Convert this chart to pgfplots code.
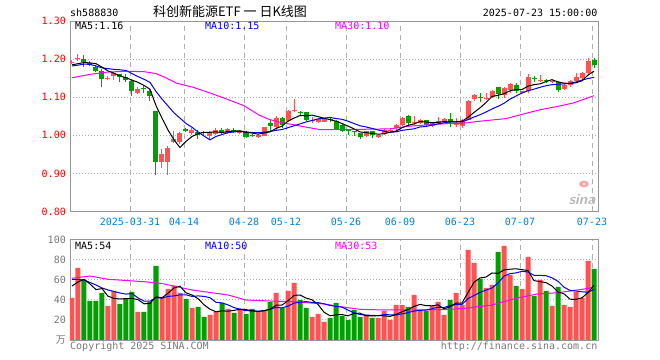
\documentclass[border=0pt]{standalone}
\usepackage{pgfplots}
\pgfplotsset{compat=1.18}
\usepackage{pgfplotstable}
\usepackage{fontspec}
\setmainfont{DejaVu Sans}
\setmonofont{DejaVu Sans Mono}
\newfontfamily\cjk{Noto Sans CJK SC}
\definecolor{cred}{RGB}{255,82,82}
\definecolor{cgreen}{RGB}{0,160,0}
\definecolor{cblue}{RGB}{0,0,255}
\definecolor{cmag}{RGB}{255,0,255}
\definecolor{cdate}{RGB}{0,128,224}
\definecolor{cgrid}{RGB}{175,175,175}
\definecolor{cframe}{RGB}{150,150,150}
\definecolor{ctxt}{RGB}{120,120,120}

\pgfplotstableread{
i O H L C V
0 1.190 1.197 1.186 1.193 42
1 1.199 1.213 1.196 1.201 72
6 1.149 1.155 1.145 1.150 34
7 1.156 1.167 1.145 1.163 49
11 1.112 1.126 1.108 1.122 28
15 0.931 0.965 0.915 0.950 43
16 0.931 0.971 0.895 0.966 51
17 0.983 1.010 0.980 0.990 54
18 0.983 1.008 0.978 1.005 47
20 1.005 1.018 1.000 1.015 32
23 0.999 1.010 0.987 1.008 25
24 1.004 1.018 1.002 1.015 28
26 1.006 1.020 1.003 1.017 31
28 1.006 1.012 1.003 1.010 31
31 0.996 1.003 0.993 1.002 28
32 0.999 1.022 0.997 1.022 30
34 1.021 1.050 1.015 1.045 47
36 1.037 1.066 1.035 1.063 49
37 1.063 1.095 1.060 1.065 57
40 1.037 1.047 1.033 1.040 23
41 1.036 1.045 1.031 1.043 26
42 1.036 1.045 1.034 1.043 18
49 0.998 1.012 0.995 1.010 25
51 0.995 1.003 0.993 1.002 22
52 1.004 1.017 1.001 1.013 29
53 1.010 1.020 1.005 1.013 20
54 1.019 1.030 1.015 1.028 35
55 1.028 1.047 1.025 1.045 35
57 1.032 1.050 1.028 1.034 45
58 1.033 1.042 1.030 1.040 30
60 1.025 1.036 1.023 1.033 34
61 1.033 1.049 1.030 1.037 38
62 1.035 1.046 1.033 1.044 25
64 1.027 1.046 1.022 1.029 47
65 1.024 1.043 1.018 1.040 35
66 1.041 1.092 1.040 1.090 90
67 1.095 1.109 1.090 1.106 77
69 1.096 1.112 1.092 1.098 52
70 1.100 1.118 1.098 1.117 55
72 1.106 1.126 1.099 1.124 94
73 1.119 1.138 1.110 1.135 65
75 1.112 1.117 1.110 1.115 51
76 1.115 1.160 1.110 1.154 83
78 1.142 1.158 1.140 1.145 60
80 1.141 1.146 1.138 1.143 34
82 1.122 1.134 1.119 1.132 35
83 1.132 1.145 1.128 1.143 33
84 1.143 1.163 1.141 1.154 48
85 1.150 1.166 1.146 1.164 42
86 1.163 1.204 1.157 1.195 79
}\redc

\pgfplotstableread{
i O H L C V
2 1.200 1.211 1.179 1.192 60
3 1.191 1.194 1.182 1.185 39
4 1.180 1.185 1.165 1.170 39
5 1.169 1.173 1.126 1.147 47
8 1.161 1.162 1.141 1.152 36
9 1.152 1.162 1.141 1.144 41
10 1.142 1.145 1.102 1.115 48
12 1.123 1.130 1.110 1.121 28
13 1.115 1.122 1.091 1.102 38
14 1.063 1.065 0.895 0.930 74
19 1.017 1.020 1.008 1.010 41
21 1.008 1.015 0.990 1.002 33
22 1.008 1.010 0.998 1.006 23
25 1.015 1.018 1.003 1.006 37
27 1.012 1.018 1.005 1.010 27
29 1.008 1.010 0.993 0.996 26
30 1.000 1.003 0.995 0.998 31
33 1.031 1.041 1.010 1.025 38
35 1.045 1.048 1.020 1.028 32
38 1.060 1.063 1.053 1.058 40
39 1.061 1.062 1.038 1.040 32
43 1.043 1.047 1.035 1.040 22
44 1.037 1.040 1.015 1.017 37
45 1.028 1.031 1.008 1.012 24
46 1.012 1.015 1.001 1.010 20
47 1.010 1.012 0.998 1.008 30
48 1.005 1.007 0.990 0.996 23
50 1.010 1.012 0.993 1.000 22
56 1.050 1.052 1.028 1.031 33
59 1.039 1.041 1.025 1.027 29
63 1.043 1.058 1.022 1.034 40
68 1.099 1.110 1.088 1.097 61
71 1.126 1.128 1.096 1.109 88
74 1.132 1.138 1.110 1.115 54
77 1.150 1.156 1.141 1.147 44
79 1.146 1.148 1.138 1.143 49
81 1.141 1.143 1.113 1.120 53
87 1.198 1.204 1.176 1.185 71
}\greenc

\pgfplotstableread{
i m5 m10 v5 v10
0 1.185 1.182 54 60.7
1 1.188 1.184 58 60.5
2 1.191 1.187 60.7 60
3 1.190 1.186 56 57.5
4 1.188 1.182 50.4 55
5 1.179 1.177 51.4 52
6 1.169 1.175 43.8 50
7 1.163 1.173 41.6 48.5
8 1.156 1.172 41.0 47
9 1.151 1.170 41.4 45.9
10 1.145 1.162 41.6 46.5
11 1.139 1.154 40.4 42.1
12 1.131 1.147 36.2 38.9
13 1.121 1.139 36.6 38.8
14 1.078 1.115 43.2 42.3
15 1.045 1.095 42.2 41.9
16 1.014 1.077 46.8 43.6
17 0.988 1.059 52.0 44.1
18 0.968 1.045 53.8 45.2
19 0.984 1.031 47.2 45.2
20 0.997 1.021 45.0 43.6
21 1.004 1.009 41.4 44.1
22 1.008 0.998 35.2 43.6
23 1.008 0.988 30.8 42.3
24 1.009 0.997 28.2 37.7
25 1.007 1.002 29.2 37.1
26 1.010 1.007 28.8 35.1
27 1.011 1.009 29.6 32.4
28 1.012 1.010 30.8 30.8
29 1.008 1.009 30.4 29.3
30 1.006 1.007 29.2 29.2
31 1.003 1.007 28.6 28.7
32 1.006 1.008 29.2 29.4
33 1.009 1.010 30.6 30.7
34 1.018 1.013 34.8 32.6
35 1.024 1.015 35.0 32.1
36 1.037 1.020 39.2 33.9
37 1.045 1.025 44.6 36.9
38 1.052 1.030 45.0 37.8
39 1.051 1.035 42.0 38.4
40 1.053 1.039 40.2 37.6
41 1.049 1.043 35.6 37.4
42 1.045 1.045 27.8 36.2
43 1.041 1.047 24.2 34.6
44 1.037 1.044 25.2 33.6
45 1.031 1.042 25.4 32.8
46 1.024 1.037 24.2 29.9
47 1.017 1.031 26.6 27.2
48 1.009 1.025 26.8 25.5
49 1.007 1.022 24.4 24.8
50 1.005 1.018 24.0 24.7
51 1.003 1.014 24.4 24.3
52 1.004 1.011 24.2 25.4
53 1.008 1.008 23.6 25.2
54 1.011 1.009 25.6 25.0
55 1.020 1.013 28.2 26.1
56 1.026 1.015 30.4 27.4
57 1.030 1.017 33.6 28.9
58 1.036 1.022 35.6 29.6
59 1.035 1.023 34.4 30.0
60 1.033 1.027 34.2 31.2
61 1.034 1.030 35.2 32.8
62 1.036 1.033 31.2 32.4
63 1.035 1.035 33.2 34.4
64 1.035 1.035 36.8 35.6
65 1.037 1.035 37.0 35.6
66 1.047 1.041 47.4 41.3
67 1.060 1.048 57.8 44.5
68 1.072 1.054 62.0 47.6
69 1.086 1.061 63.0 49.9
70 1.102 1.069 67.0 52.0
71 1.105 1.076 66.6 57.0
72 1.109 1.084 70.0 63.9
73 1.117 1.095 70.8 66.4
74 1.120 1.103 71.2 67.1
75 1.120 1.111 70.4 68.7
76 1.129 1.117 69.4 68.0
77 1.133 1.121 59.4 64.7
78 1.135 1.126 58.4 64.6
79 1.141 1.130 57.4 64.3
80 1.146 1.133 54.0 62.2
81 1.140 1.134 48.0 58.7
82 1.137 1.135 46.2 52.8
83 1.136 1.136 40.8 49.6
84 1.138 1.140 40.6 49.0
85 1.143 1.145 42.2 48.2
86 1.158 1.149 47.4 47.8
87 1.168 1.152 54.6 50.5
}\matab

\pgfplotsset{
  kbase/.style={
    scale only axis, width=528bp,
    xmin=-0.333, xmax=87.667,
    axis line style={cframe, line width=1bp},
    major tick length=0pt,
    xtick={9.667,18.667,28.667,35.667,45.667,54.667,64.667,74.667,86.667},
    xmajorgrids, ymajorgrids,
    major x grid style={cgrid, line width=1bp, dash pattern=on 5bp off 4bp},
    major y grid style={cgrid, line width=1bp, dash pattern=on 1bp off 2bp},
    tick label style={font=\ttfamily\fontsize{10bp}{10bp}\selectfont, inner sep=0pt},
    yticklabel style={anchor=east, xshift=-4bp},
  },
  wick/.style={draw=none, mark=none, forget plot,
    error bars/.cd, y dir=plus, y explicit, error mark=none,
    error bar style={draw=#1, solid, line width=1bp}},
  body/.style={draw=none, mark=none, forget plot,
    error bars/.cd, y dir=plus, y explicit, error mark=none,
    error bar style={draw=#1, solid, line width=5bp}},
}

\begin{document}
\begin{tikzpicture}
\useasboundingbox (0,0) rectangle (660bp,360bp);

% price panel
\begin{axis}[kbase, at={(70bp,148.5bp)}, anchor=south west, height=190.5bp,
  ymin=0.8, ymax=1.3, ytick={0.8,0.9,1.0,1.1,1.2,1.3},
  yticklabels={0.80,0.90,1.00,1.10,1.20,1.30},
  yticklabel style={color=red},
  xticklabels={2025-03-31,04-14,04-28,05-12,05-26,06-09,06-23,07-07,07-23},
  xticklabel style={color=cdate, anchor=north, yshift=-6.5bp}]
\addplot[wick=cred] table[x=i, y=L, y error expr=\thisrow{H}-\thisrow{L}] {\redc};
\addplot[wick=cgreen] table[x=i, y=L, y error expr=\thisrow{H}-\thisrow{L}] {\greenc};
\addplot[body=cred] table[x=i, y=O, y error expr={max(\thisrow{C}-\thisrow{O},0.0027)}] {\redc};
\addplot[body=cgreen] table[x=i, y=C, y error expr={max(\thisrow{O}-\thisrow{C},0.0027)}] {\greenc};
\addplot[cmag, line width=1bp] coordinates {(0,1.151) (3,1.160) (6,1.166) (9,1.168) (12,1.167) (14,1.162) (15.5,1.152) (17.4,1.137) (20.2,1.126) (23,1.111) (25.8,1.095) (28.6,1.078) (31.3,1.052) (33,1.041) (35.2,1.032) (36.9,1.028) (38.8,1.022) (41.3,1.015) (45.8,1.015) (53,1.017) (56.3,1.024) (59.7,1.028) (63,1.031) (64.7,1.031) (68,1.037) (72.4,1.044) (75,1.055) (78,1.067) (81,1.076) (83.6,1.085) (87,1.104)};
\addplot[cblue, line width=1bp] table[x=i, y=m10] {\matab};
\addplot[black, line width=1bp] table[x=i, y=m5] {\matab};
\end{axis}

% volume panel
\begin{axis}[kbase, at={(70bp,20bp)}, anchor=south west, height=100bp,
  ymin=0, ymax=100, ytick={0,20,40,60,80,100},
  yticklabels={{\cjk 万},20,40,60,80,100},
  yticklabel style={color=ctxt},
  xticklabels={}]
\addplot[ybar, bar width=5bp, bar shift=0pt, fill=cred, draw=none] table[x=i, y=V] {\redc};
\addplot[ybar, bar width=5bp, bar shift=0pt, fill=cgreen, draw=none] table[x=i, y=V] {\greenc};
\addplot[cmag, line width=1bp] coordinates {(0,61.7) (3,64) (6,60.7) (9,59.5) (12,58.3) (15,56.5) (20,50) (26,45) (29,40) (33,39) (37,38.3) (42,36) (46,32.3) (48,30.7) (52,30) (58,30) (63,30.7) (65.5,31.7) (70,35) (74,41.7) (77.5,46) (81,47.3) (85,50.7) (87,52.7)};
\addplot[cblue, line width=1bp] table[x=i, y=v10] {\matab};
\addplot[black, line width=1bp] table[x=i, y=v5] {\matab};
\end{axis}

\begin{scope}[every node/.style={inner sep=0pt, font=\ttfamily\fontsize{10bp}{10bp}\selectfont}]
\node[anchor=base west] at (70bp,343.2bp) {sh588830};
\node[anchor=base, font=\cjk\fontsize{13bp}{13bp}\selectfont] at (230bp,343bp) {科创新能源ETF 一 日K线图};
\node[anchor=base east] at (597.5bp,343.2bp) {2025-07-23 15:00:00};
\node[anchor=base west] at (75bp,330.4bp) {MA5:1.16};
\node[anchor=base west, text=cblue] at (205bp,330.4bp) {MA10:1.15};
\node[anchor=base west, text=cmag] at (335bp,330.4bp) {MA30:1.10};
\node[anchor=base west] at (75bp,110.7bp) {MA5:54};
\node[anchor=base west, text=cblue] at (205bp,110.7bp) {MA10:50};
\node[anchor=base west, text=cmag] at (335bp,110.7bp) {MA30:53};
\node[anchor=base west, text=ctxt] at (70bp,10.4bp) {Copyright 2025 SINA.COM};
\node[anchor=base east, text=ctxt] at (597.5bp,10.4bp) {http://finance.sina.com.cn};
\node[anchor=base, text=gray!55, font=\sffamily\bfseries\itshape\fontsize{15bp}{15bp}\selectfont] at (582bp,155bp) {sina};
\fill[red!35] (584bp,176bp) ellipse (5bp and 3.5bp);
\fill[white] (584bp,176bp) circle (1.5bp);
\end{scope}
\end{tikzpicture}
\end{document}
